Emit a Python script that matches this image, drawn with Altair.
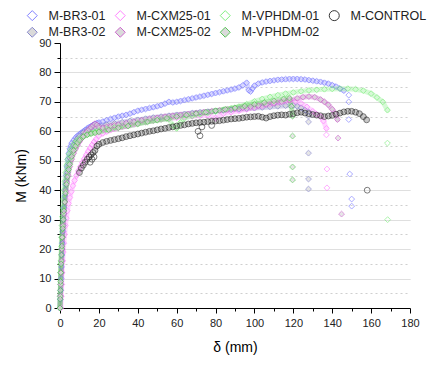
import altair as alt
import pandas as pd

# ---- data (delta in mm, M in kNm) ----
br301_d = [0, 0.2, 0.4, 0.6, 0.8, 1.0, 1.2, 1.5, 1.8, 2.1, 2.4, 2.8, 3.2, 3.6, 4.0, 4.5, 5, 5.5, 6, 7, 8, 9, 10,
           11, 12, 13, 14, 15, 16, 17, 18, 19, 20, 22, 24, 26, 28, 30, 32, 34, 36, 38, 40, 42, 44, 46, 48, 50,
           52, 54, 56, 58, 60, 62, 64, 66, 68, 70, 72, 74, 76, 78, 80, 82, 84, 86, 88, 90, 92, 94, 96, 97, 98,
           99, 100, 102, 104, 106, 108, 110, 112, 114, 116, 118, 120, 122, 124, 126, 128, 130, 132, 134, 136,
           138, 140, 142, 144, 146]
br301_m = [0, 3, 6, 10, 14, 18, 22, 26, 30, 34, 38, 42, 45, 48, 50.5, 52.5, 54, 55, 56, 57, 57.8, 58.5, 59,
           59.5, 60, 60.5, 61, 61.4, 61.8, 62.2, 62.5, 62.8, 63, 63.3, 63.8, 64.2, 64.6, 65, 65.3, 65.6, 66,
           66.5, 67, 67.3, 67.6, 67.9, 68.2, 68.5, 68.9, 69.4, 70, 69.8, 70, 70.3, 70.6, 70.9, 71.2, 71.5, 71.8,
           72.1, 72.4, 72.7, 73, 73.3, 73.6, 73.9, 74.2, 74.5, 74.9, 75.6, 76.5, 74, 73.5, 74.5, 75.5, 76.2,
           76.6, 76.9, 77.1, 77.3, 77.5, 77.6, 77.7, 77.8, 77.8, 77.8, 77.7, 77.6, 77.4, 77.2, 77, 76.8, 76.5,
           76.2, 75.7, 75.2, 74.5, 73.8]
br301_drop_d = [148.5, 148.5, 148.5, 149, 150, 150]
br301_drop_m = [72.3, 70, 64, 45.5, 37, 34.6]

br302_d = [0, 0.2, 0.4, 0.6, 0.8, 1.0, 1.3, 1.6, 2.0, 2.4, 2.8, 3.3, 3.8, 4.4, 5, 6, 7, 8, 9, 10, 12, 14, 16,
           18, 20, 24, 28, 32, 36, 40, 44, 48, 52, 56, 60, 64, 68, 72, 76, 80, 84, 88, 92, 96, 100, 104, 108,
           112, 116, 120, 122, 124, 126, 127.8]
br302_m = [0, 4, 8, 12, 16, 20, 24, 28, 32, 36, 40, 43, 46, 49, 51, 53.5, 55.3, 56.6, 57.6, 58.4, 59.6, 60.4,
           61, 61.5, 61.8, 62.3, 62.7, 63.1, 63.5, 63.9, 64.3, 64.7, 65, 65.3, 65.6, 65.9, 66.2, 66.5, 66.7,
           66.9, 67.1, 67.3, 67.5, 67.7, 67.9, 68.1, 68.3, 68.5, 68.7, 68.8, 68.5, 68, 67.2, 66.6]
br302_drop_d = [127.8, 127.8, 127.8, 127.8, 127.8]
br302_drop_m = [65.2, 63.2, 52.6, 43.8, 40.4]

cxm01_d = [0.5, 0.7, 0.9, 1.1, 1.4, 1.7, 2.0, 2.4, 2.8, 3.3, 3.8, 4.4, 5.1, 5.8, 6.6, 7.5, 8.5, 9.5, 10.5,
           11.5, 12.5, 13.5, 14.5, 15.5, 16.5, 17.5, 18.5, 20, 22, 24, 26, 28, 30, 32, 34, 36, 38, 40, 44, 48,
           52, 56, 60, 64, 68, 72, 76, 80, 84, 88, 92, 96, 100, 104, 108, 112, 116, 118.5, 121, 124, 127, 130,
           132, 134, 135.5, 137]
cxm01_m = [0, 4, 8, 12, 16, 19, 22, 25, 28, 30.5, 33, 35.5, 37.5, 39.5, 41.5, 43.3, 45, 46.6, 48, 49.4, 50.7,
           52, 53.2, 54.3, 55.4, 56.4, 57.3, 58.5, 59.3, 59.9, 60.4, 60.8, 61.2, 61.5, 61.8, 62.1, 62.4, 62.7,
           63.2, 63.6, 64, 64.3, 64.6, 64.9, 65.1, 65.3, 65.5, 64.5, 66, 66.5, 67, 67.5, 68, 68.6, 69.2, 69.8,
           70.3, 70.6, 70.2, 69.5, 68.3, 66.8, 65.8, 65, 63.5, 61]
cxm01_drop_d = [137, 137.3, 137.3]
cxm01_drop_m = [58.8, 47.2, 40.8]

cxm02_d = [0, 0.2, 0.4, 0.6, 0.8, 1.0, 1.3, 1.6, 2.0, 2.5, 3.0, 3.6, 4.2, 5, 6, 7, 8, 9, 10, 11, 12, 13, 14,
           15, 16, 17, 18, 19, 20, 22, 24, 26, 28, 30, 34, 38, 42, 46, 50, 54, 58, 62, 66, 70, 74, 78, 82, 86,
           90, 94, 98, 102, 106, 110, 114, 118, 122, 125, 128, 131, 134, 136, 138, 140, 141.5, 142.7]
cxm02_m = [0, 4, 8, 12, 16, 20, 24, 28, 32, 36, 39.5, 42.5, 45, 48, 50.5, 52.5, 54, 55.3, 56.5, 57.5, 58.5,
           59.3, 60, 60.7, 61.4, 62, 62.6, 62.2, 61.3, 61.2, 61.5, 61.8, 62, 62.3, 62.8, 63.3, 63.8, 64.2,
           64.6, 65, 65.3, 65.6, 65.9, 66.2, 66.5, 66.8, 67.1, 67.4, 67.7, 68, 68.3, 68.7, 69.1, 69.5, 70,
           70.6, 71.2, 71.6, 71.8, 71.6, 70.8, 70, 69, 67.5, 66, 64]
cxm02_drop_d = [143, 144.8]
cxm02_drop_m = [57.7, 31.9]

vph01_d = [0, 0.1, 0.2, 0.3, 0.45, 0.6, 0.8, 1.0, 1.2, 1.5, 1.8, 2.1, 2.5, 3, 3.5, 4, 4.7, 5.5, 6.5, 7.5, 8.5,
           10, 12, 14, 16, 18, 20, 24, 28, 32, 36, 40, 44, 48, 52, 56, 58, 60, 62, 64, 68, 72, 76, 80, 84, 88,
           92, 96, 100, 104, 108, 112, 116, 120, 124, 128, 132, 136, 140, 144, 148, 152, 156, 160, 163, 166,
           168.4]
vph01_m = [0, 4, 8, 12, 16, 20, 24, 28, 31, 34, 37, 40, 43, 46, 48.5, 50.5, 52.3, 53.8, 55, 56, 56.8, 57.6,
           58.4, 59, 59.5, 59.9, 60.2, 60.8, 61.3, 61.8, 62.3, 62.8, 63.2, 63.6, 64, 64.2, 62, 61, 63, 64.5,
           65.2, 65.8, 66.3, 66.8, 67.3, 67.8, 68.4, 69.2, 70.2, 71, 71.7, 72.3, 72.8, 73.2, 73.6, 73.9, 74.1,
           74.3, 74.4, 74.5, 74.5, 74.3, 73.8, 72.8, 71.5, 70, 67.2]
vph01_drop_d = [168.4, 168.5]
vph01_drop_m = [56, 30]

vph02_d = [0, 0.1, 0.2, 0.3, 0.4, 0.5, 0.7, 0.9, 1.1, 1.4, 1.7, 2.0, 2.4, 2.8, 3.3, 3.8, 4.4, 5, 6, 7, 8, 9,
           10, 12, 14, 16, 18, 20, 25, 30, 35, 40, 45, 50, 55, 60, 65, 70, 75, 80, 85, 90, 95, 100, 105, 110,
           115, 118, 119, 119.6]
vph02_m = [0, 3, 6, 9, 12, 15, 18, 21, 24, 27, 30, 33, 36, 39, 42, 44.5, 47, 48.8, 51.5, 53.5, 55, 56.1, 57,
           58.2, 58.8, 59.2, 59.5, 59.8, 60.5, 61.2, 61.8, 62.5, 63.2, 63.8, 64.4, 65, 65.5, 66, 66.5, 67,
           67.5, 68, 68.6, 69.2, 69.8, 70.4, 71, 71.3, 68.5, 65.2]
vph02_drop_d = [119.6, 119.6, 119.6]
vph02_drop_m = [58.4, 47.9, 43.5]

ctrl_d = [10, 11, 12, 13, 14, 15, 16, 17, 18, 19, 20, 22, 24, 26, 28, 30, 32, 34, 36, 38,
          40, 42, 44, 46, 48, 50, 52, 54, 56, 58, 60, 62, 64, 66, 68, 70, 72, 74, 76, 78, 80, 82,
          84, 86, 88, 90, 92, 94, 96, 98, 100, 102, 104, 106, 108, 110, 112, 114, 116, 118, 120, 122, 124,
          126, 128, 130, 132, 134, 136, 138, 140, 142, 144, 146, 148, 150, 152, 154, 156, 157.7]
ctrl_m = [46, 47.5, 48.5, 49.5, 50.5, 51.3, 52, 52.8, 53.5, 55, 55.6, 56.2, 56.6, 56.9,
          57.2, 57.5, 57.8, 58.2, 58.5, 58.8, 59.1, 59.4, 59.7, 60, 60.2, 60.5, 60.8, 61, 61.3, 61.5, 61.8,
          62, 62.2, 62.5, 62.7, 62.9, 63, 63.1, 63.3, 63.4, 63.5, 63.6, 63.8, 64, 64.2, 64.3,
          64.4, 64.6, 64.8, 64.9, 65, 65.1, 64.8, 64.5, 65, 65.3, 65.5, 65.6, 65.5, 65.8, 66, 66.3, 66.5,
          66.2, 66, 65.7, 65.5, 65.3, 65, 65.2, 65.4, 65.8, 66.2, 66.6, 66.8, 66.8, 66.5, 66, 65, 63.9]
ctrl_drop_d = [15.5, 16.5, 17.5, 71, 72, 73, 78, 158]
ctrl_drop_m = [49.5, 50.5, 51.3, 60, 58.5, 61.5, 62, 40]

series_names = ["M-BR3-01", "M-CXM25-01", "M-VPHDM-01", "M-CONTROL",
                "M-BR3-02", "M-CXM25-02", "M-VPHDM-02"]
stroke_colors = ["#7474ff", "#ff78ff", "#74ee74", "#222222", "#7c7cc8", "#c858c8", "#48c048"]
fill_colors = ["transparent", "transparent", "transparent", "transparent", "#d6d6d6", "#d6d6d6", "#d6d6d6"]
band_colors = ["#9a9aff", "#ff9cff", "#98f098", "#777777", "#9090c8", "#c870c8", "#58c858"]
shapes = ["diamond", "diamond", "diamond", "circle", "diamond", "diamond", "diamond"]

y_ticks = [0, 5, 10, 15, 20, 25, 30, 35, 40, 45, 50, 55, 60, 65, 70, 75, 80, 85, 90]
x_ticks = [0, 10, 20, 30, 40, 50, 60, 70, 80, 90, 100, 110, 120, 130, 140, 150, 160, 170, 180]

draw_order = [
    ("M-BR3-01", br301_d, br301_m, br301_drop_d, br301_drop_m),
    ("M-BR3-02", br302_d, br302_m, br302_drop_d, br302_drop_m),
    ("M-CXM25-01", cxm01_d, cxm01_m, cxm01_drop_d, cxm01_drop_m),
    ("M-CXM25-02", cxm02_d, cxm02_m, cxm02_drop_d, cxm02_drop_m),
    ("M-VPHDM-01", vph01_d, vph01_m, vph01_drop_d, vph01_drop_m),
    ("M-VPHDM-02", vph02_d, vph02_m, vph02_drop_d, vph02_drop_m),
    ("M-CONTROL", ctrl_d, ctrl_m, ctrl_drop_d, ctrl_drop_m),
]
curve_frames, point_frames = [], []
for i, (name, d, m, dd, dm) in enumerate(draw_order):
    c = pd.DataFrame({"series": name, "d": d, "M": m})
    c["k"] = range(len(c))
    curve_frames.append(c)
    point_frames.append(pd.DataFrame({"series": name, "d": d + dd, "M": m + dm}))
curves = pd.concat(curve_frames, ignore_index=True)
points = pd.concat(point_frames, ignore_index=True)
points["idx"] = range(len(points))

font = "Liberation Sans, Arial, sans-serif"

x_enc = alt.X("d:Q", scale=alt.Scale(domain=[0, 180], nice=False, zero=False),
              axis=alt.Axis(values=x_ticks, title="δ (mm)", grid=False,
                            labelExpr="datum.value % 20 === 0 ? datum.label : ''",
                            tickSize={"condition": {"test": "datum.value % 20 === 0", "value": 5}, "value": 3},
                            labelFlush=False, labelOverlap=False, labelPadding=4,
                            titlePadding=12))
y_enc = alt.Y("M:Q", scale=alt.Scale(domain=[0, 90], nice=False, zero=False),
              axis=alt.Axis(values=y_ticks, title="M (kNm)",
                            labelExpr="datum.value % 10 === 0 ? datum.label : ''",
                            tickSize={"condition": {"test": "datum.value % 10 === 0", "value": 6}, "value": 3},
                            gridDash={"condition": {"test": "datum.value % 10 === 0", "value": [1, 0]},
                                      "value": [2, 3]},
                            gridColor={"condition": {"test": "datum.value % 10 === 0", "value": "#d4d4d4"},
                                       "value": "#cfcfcf"},
                            gridOpacity={"condition": {"test": "datum.value === 0 || datum.value === 90",
                                                       "value": 0}, "value": 1},
                            labelFlush=False, labelOverlap=False, labelPadding=3,
                            titlePadding=10))

bands = alt.Chart(curves).mark_line(strokeWidth=5, opacity=0.4, strokeCap="round", strokeJoin="round").encode(
    x=x_enc, y=y_enc,
    detail="series:N",
    stroke=alt.Stroke("series:N", scale=alt.Scale(domain=series_names, range=band_colors), legend=None),
    order=alt.Order("k:Q"),
)

marks = alt.Chart(points).mark_point(size=34, opacity=0.6, strokeWidth=1).encode(
    x=x_enc, y=y_enc,
    color=alt.Color("series:N", scale=alt.Scale(domain=series_names, range=stroke_colors),
                    legend=alt.Legend(title=None, orient="none", legendX=-34, legendY=-34,
                                      columns=4, direction="horizontal", columnPadding=7,
                                      rowPadding=2, symbolSize=100, labelFontSize=12.5,
                                      labelOffset=10, labelFont=font, labelColor="#222222",
                                      symbolStrokeWidth=1, symbolOpacity=0.9, padding=0)),
    fill=alt.Fill("series:N", scale=alt.Scale(domain=series_names, range=fill_colors)),
    shape=alt.Shape("series:N", scale=alt.Scale(domain=series_names, range=shapes)),
    order=alt.Order("idx:Q"),
)

chart = alt.layer(bands, marks).resolve_scale(stroke="independent").properties(
    width=350, height=265,
    autosize=alt.AutoSizeParams(type="none"),
    padding={"left": 52, "top": 35, "right": 26, "bottom": 50},
).configure_view(
    stroke=None
).configure_axis(
    domainColor="#000000", tickColor="#000000", labelColor="#222222",
    labelFont=font, titleFont=font, labelFontSize=11, titleFontSize=14,
    titleFontWeight="normal", titleColor="#000000", gridWidth=1
)

chart.save("out.html", embed_options={"renderer": "svg", "actions": False})
